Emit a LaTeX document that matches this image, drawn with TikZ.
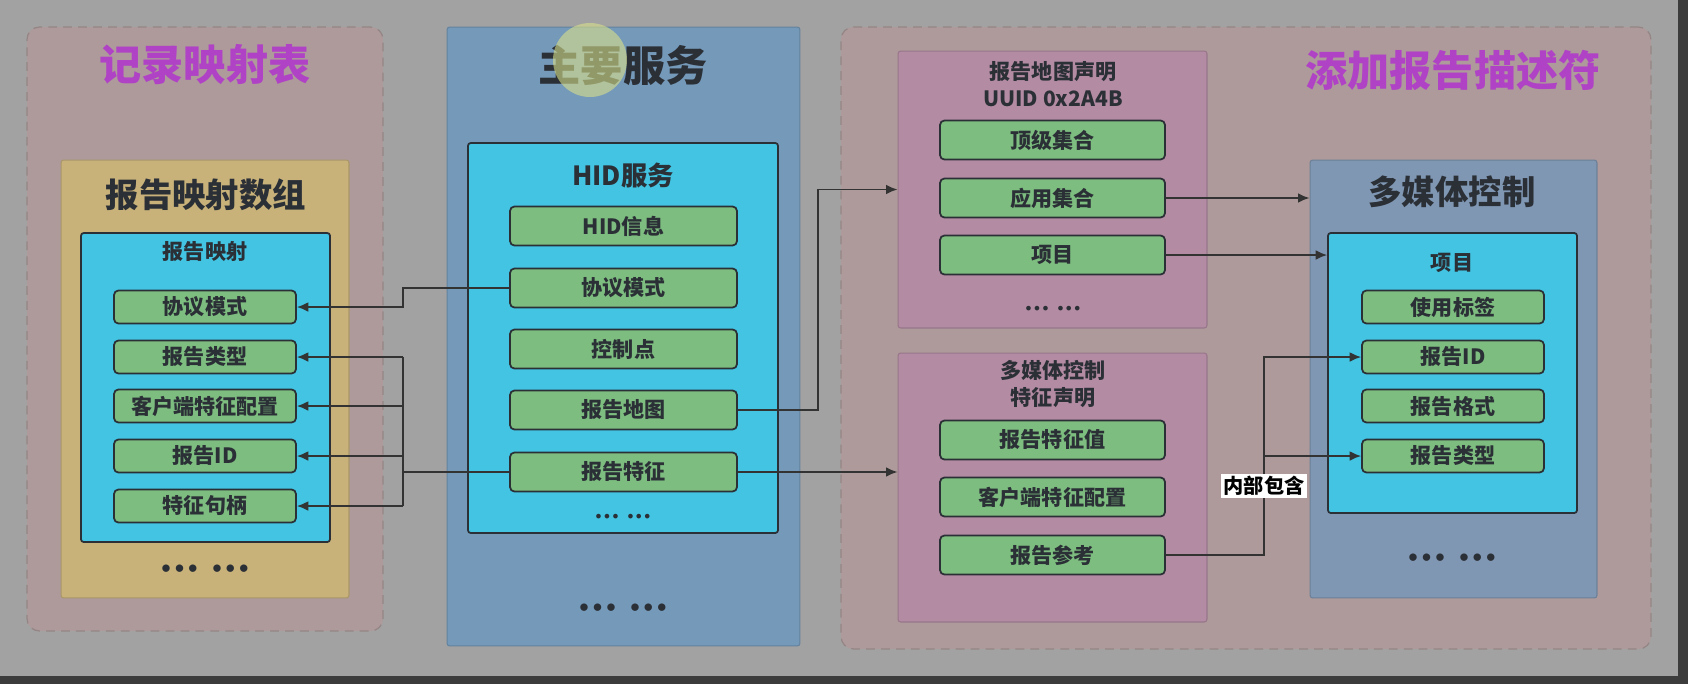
\documentclass[tikz,border=0pt]{standalone}
\usepackage{fontspec}
\newfontfamily\cjk{Noto Sans CJK SC}
\newfontfamily\dotface{DejaVu Sans}
\usetikzlibrary{arrows.meta,positioning}

\definecolor{bggray}{HTML}{A2A2A2}
\definecolor{framedark}{HTML}{3C3C3C}
\definecolor{panelpink}{HTML}{AE9A9A}
\definecolor{dashline}{HTML}{958585}
\definecolor{mainblue}{HTML}{7599B9}
\definecolor{arraytan}{HTML}{C8B27A}
\definecolor{boxcyan}{HTML}{42C4E2}
\definecolor{itemgreen}{HTML}{7DBE80}
\definecolor{declpink}{HTML}{B38BA3}
\definecolor{mediablue}{HTML}{7F97B3}
\definecolor{titlemag}{HTML}{B043C5}
\definecolor{textdark}{HTML}{2B2F36}
\definecolor{linkgray}{HTML}{333333}
\definecolor{highlight}{HTML}{D8E08A}

\newcommand{\headfont}{\cjk\bfseries\fontsize{24}{28}\selectfont}
\newcommand{\boxfont}{\cjk\bfseries\fontsize{19}{22}\selectfont}
\newcommand{\itemfont}{\cjk\bfseries\fontsize{12}{14}\selectfont}
\newcommand{\declfont}{\cjk\bfseries\fontsize{12}{15}\selectfont}

\begin{document}
\begin{tikzpicture}[x=0.02cm, y=-0.02cm,
    panel/.style={rectangle, inner sep=0pt, draw=dashline, fill=panelpink, dash pattern=on 5pt off 3.5pt, line width=0.7pt, rounded corners=7pt},
    box/.style={rectangle, inner sep=0pt, line width=0.6pt, rounded corners=1.5pt},
    cyanbox/.style={box, draw=textdark, fill=boxcyan, line width=1pt},
    item/.style={rectangle, draw=textdark, fill=itemgreen, line width=1pt, rounded corners=2.5pt, text=textdark, font=\itemfont, inner sep=0pt},
    itemsm/.style={item, minimum width=3.64cm, minimum height=0.66cm},
    itemlg/.style={item, minimum width=4.54cm, minimum height=0.78cm},
    wire/.style={draw=linkgray, line width=0.9pt},
    link/.style={wire, -{Latex[length=6.5pt,width=5.5pt]}},
    dotrow/.style={text=textdark, font=\dotface\bfseries\fontsize{12}{14}\selectfont},
    smalldots/.style={text=textdark, font=\dotface\bfseries\fontsize{7.5}{9}\selectfont}]
    % Screen background
    \useasboundingbox (0,0) rectangle (1688,684);
    \fill[framedark] (0,0) rectangle (1688,684);
    \fill[bggray] (0,0) rectangle (1678,676);
    % Three big panels
    \node[panel, minimum width=7.12cm, minimum height=12.08cm] (recpanel) at (205,329) {};
    \node[box, draw=mainblue!85!black, fill=mainblue, minimum width=7.06cm, minimum height=12.38cm] (mainpanel) at (623.5,336.5) {};
    \node[panel, minimum width=16.2cm, minimum height=12.44cm] (addpanel) at (1246,338) {};
    % Boxes inside the panels
    \node[box, draw=arraytan!85!black, fill=arraytan, minimum width=5.76cm, minimum height=8.76cm] (arraybox) at (205,379) {};
    \node[cyanbox, minimum width=4.98cm, minimum height=6.18cm] (mapbox) at (205.5,387.5) {};
    \node[cyanbox, minimum width=6.2cm, minimum height=7.8cm] (hidbox) at (623,338) {};
    \node[box, draw=declpink!85!black, fill=declpink, minimum width=6.18cm, minimum height=5.54cm] (mapdecl) at (1052.5,189.5) {};
    \node[box, draw=declpink!85!black, fill=declpink, minimum width=6.18cm, minimum height=5.38cm] (featdecl) at (1052.5,487.5) {};
    \node[box, draw=mediablue!85!black, fill=mediablue, minimum width=5.74cm, minimum height=8.76cm] (mediabox) at (1453.5,379) {};
    \node[cyanbox, minimum width=4.98cm, minimum height=5.6cm] (itembox) at (1452.5,373) {};
    % Titles
    \node[text=titlemag, font=\headfont] (rectitle) at (205,65) {记录映射表};
    \node[text=textdark, font=\headfont] (maintitle) at (623,65) {主要服务};
    \node[text=titlemag, font=\headfont] (addtitle) at (1453,70) {添加报告描述符};
    \node[text=textdark, font=\boxfont] (arraytitle) at (206,195) {报告映射数组};
    \node[text=textdark, font=\itemfont] (maptitle) at (205,252) {报告映射};
    \node[text=textdark, font=\cjk\bfseries\fontsize{15}{18}\selectfont] (hidtitle) at (623,175) {HID服务};
    \node[text=textdark, font=\declfont, align=center] (mapdecltitle) at (1053,84) {报告地图声明\\UUID 0x2A4B};
    \node[text=textdark, font=\declfont, align=center] (featdecltitle) at (1053,384) {多媒体控制\\特征声明};
    \node[text=textdark, font=\boxfont] (mediatitle) at (1452,192) {多媒体控制};
    \node[text=textdark, font=\itemfont] (itemtitle) at (1452,263) {项目};
    % Report map entries
    \node[itemsm] (lmode) at (205,307) {协议模式};
    \node[itemsm] (ltype) at (205,357) {报告类型};
    \node[itemsm] (lcfg) at (205,406) {客户端特征配置};
    \node[itemsm] (lid) at (205,456) {报告ID};
    \node[itemsm] (lhandle) at (205,506) {特征句柄};
    \node[dotrow] (ldots) at (205,571) {•••\enspace•••};
    % HID service entries
    \node[itemlg] (hinfo) at (623.5,226) {HID信息};
    \node[itemlg] (hmode) at (623.5,288) {协议模式};
    \node[itemlg] (hctrl) at (623.5,349) {控制点};
    \node[itemlg] (hmap) at (623.5,410) {报告地图};
    \node[itemlg] (hfeat) at (623.5,472) {报告特征};
    \node[smalldots] (hdots) at (623,518) {•••\enspace•••};
    \node[dotrow] (mdots) at (623,610) {•••\enspace•••};
    % Report map declaration
    \node[item, minimum width=4.5cm, minimum height=0.78cm] (mtop) at (1052.5,140) {顶级集合};
    \node[item, minimum width=4.5cm, minimum height=0.78cm] (mapp) at (1052.5,198) {应用集合};
    \node[item, minimum width=4.5cm, minimum height=0.78cm] (mitem) at (1052.5,255) {项目};
    \node[smalldots] (mapdots) at (1053,310) {•••\enspace•••};
    % Feature declaration
    \node[item, minimum width=4.5cm, minimum height=0.78cm] (fval) at (1052.5,440) {报告特征值};
    \node[item, minimum width=4.5cm, minimum height=0.78cm] (fcfg) at (1052.5,497) {客户端特征配置};
    \node[item, minimum width=4.5cm, minimum height=0.78cm] (fref) at (1052.5,555) {报告参考};
    % Multimedia item
    \node[itemsm] (iusage) at (1453,307) {使用标签};
    \node[itemsm] (iid) at (1453,357) {报告ID};
    \node[itemsm] (ifmt) at (1453,406) {报告格式};
    \node[itemsm] (itype) at (1453,456) {报告类型};
    \node[dotrow] (idots) at (1452,560) {•••\enspace•••};
    % Cursor highlight
    \fill[highlight, opacity=0.6] (590,60) circle (0.74cm);
    % Connectors
    \coordinate (lbus) at (403,0);
    \coordinate (rbus) at (1264,0);
    \draw[link] (hmode.west) -- (hmode.west -| lbus) |- (lmode.east);
    \draw[wire] (hfeat.west) -- (hfeat.west -| lbus);
    \draw[wire] (ltype.east -| lbus) -- (lhandle.east -| lbus);
    \draw[link] (ltype.east -| lbus) -- (ltype.east);
    \draw[link] (lcfg.east -| lbus) -- (lcfg.east);
    \draw[link] (lid.east -| lbus) -- (lid.east);
    \draw[link] (lhandle.east -| lbus) -- (lhandle.east);
    \draw[link] (hmap.east) -- ++(80,0) |- (mapdecl.west);
    \draw[link] (hfeat.east) -- (hfeat.east -| featdecl.west);
    \draw[link] (mapp.east) -- (mapp.east -| mediabox.west);
    \draw[link] (mitem.east) -- (mitem.east -| itembox.west);
    \draw[link] (fref.east) -- (fref.east -| rbus) |- (iid.west);
    \draw[link] (itype.west -| rbus) -- (itype.west);
    \node[fill=white, inner sep=1.5pt, text=black, font=\cjk\bfseries\fontsize{11.5}{13}\selectfont] (contains) at (1264,486) {内部包含};
\end{tikzpicture}
\end{document}
